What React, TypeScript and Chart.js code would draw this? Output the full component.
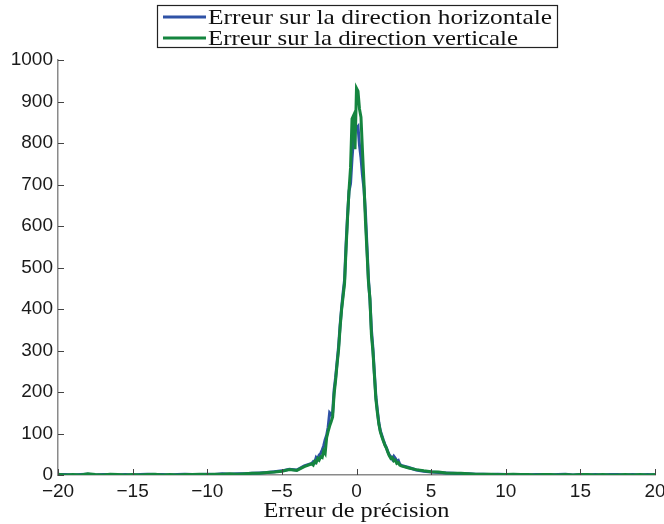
import React, { useEffect, useRef } from "react";
import { Chart, registerables } from "chart.js";

Chart.register(...registerables);

// Histogram bin centres (Erreur de précision)
const bins: number[] = [
  -20, -19.5, -19, -18.5, -18, -17.5, -17, -16.5, -16, -15.5, -15, -14.5, -14, -13.5, -13, -12.5, -12,
  -11.5, -11, -10.5, -10, -9.5, -9, -8.5, -8, -7.5, -7, -6.5, -6, -5.5, -5, -4.5, -4, -3.5,
  -3.0, -2.9, -2.8, -2.7, -2.6, -2.5, -2.4, -2.3, -2.2, -2.1, -2.0, -1.9, -1.8, -1.7, -1.6, -1.5,
  -1.4, -1.3, -1.2, -1.1, -1.0, -0.9, -0.8, -0.7, -0.6, -0.5, -0.4, -0.3, -0.2, -0.1, 0.0,
  0.1, 0.2, 0.3, 0.4, 0.5, 0.6, 0.7, 0.8, 0.9, 1.0, 1.1, 1.2, 1.3, 1.4, 1.5, 1.6, 1.7, 1.8, 1.9, 2.0,
  2.1, 2.2, 2.3, 2.4, 2.5, 2.6, 2.7, 2.8, 2.9, 3.0,
  3.5, 4, 4.5, 5, 5.5, 6, 6.5, 7, 7.5, 8, 8.5, 9, 9.5, 10, 10.5, 11, 11.5, 12, 12.5, 13, 13.5, 14,
  14.5, 15, 15.5, 16, 16.5, 17, 17.5, 18, 18.5, 19, 19.5, 20,
];

const horizontale: number[] = [
  1, 1, 0, 1, 2, 0, 1, 1, 0, 1, 0, 1, 2, 1, 1, 0, 1,
  2, 1, 1, 2, 1, 3, 2, 3, 3, 4, 5, 6, 8, 10, 14, 12, 22,
  28, 32, 30, 42, 38, 48, 52, 60, 70, 85, 96, 115, 150, 146, 150, 205,
  235, 272, 310, 360, 402, 438, 470, 555, 625, 684, 702, 762, 812, 830, 836,
  840, 795, 765, 722, 690, 632, 552, 472, 422, 350, 305, 245, 188, 155, 125, 106, 95, 84, 74, 66,
  56, 48, 44, 38, 45, 40, 33, 35, 26, 23,
  18, 12, 9, 7, 6, 5, 4, 3, 3, 2, 2, 1, 2, 1, 1, 1, 0, 1, 1, 0, 1, 2,
  0, 1, 0, 1, 0, 1, 1, 0, 1, 0, 1, 0,
];

const verticale: number[] = [
  2, 0, 1, 0, 3, 1, 0, 2, 1, 0, 1, 0, 1, 2, 0, 1, 0,
  1, 1, 2, 1, 2, 2, 3, 2, 3, 4, 4, 6, 7, 9, 13, 11, 20,
  27, 24, 33, 30, 40, 36, 44, 42, 58, 52, 90, 105, 118, 128, 140, 195,
  228, 268, 302, 355, 398, 430, 462, 545, 620, 687, 740, 858, 866, 785, 932,
  925, 882, 862, 782, 705, 612, 540, 466, 425, 338, 298, 240, 182, 150, 122, 104, 92, 82, 72, 65,
  55, 46, 40, 42, 34, 36, 28, 30, 24, 22,
  17, 13, 10, 8, 7, 5, 4, 4, 3, 2, 2, 2, 1, 1, 2, 1, 1, 0, 1, 1, 0, 1,
  0, 1, 1, 0, 1, 0, 0, 1, 0, 1, 0, 1,
];

const seriesLabels = ["Erreur sur la direction horizontale", "Erreur sur la direction verticale"];
const xTitle = "Erreur de précision";
const BLUE = "#2f52a6";
const GREEN = "#15853f";

const SERIF = '"Liberation Serif", "DejaVu Serif", serif';

function drawStretched(ctx: CanvasRenderingContext2D, text: string, x: number, y: number, targetW: number, align: "left" | "center") {
  const w = ctx.measureText(text).width;
  const sx = targetW / w;
  ctx.save();
  ctx.translate(x, y);
  ctx.scale(sx, 1);
  ctx.textAlign = "left";
  ctx.fillText(text, align === "center" ? -w / 2 : 0, 0);
  ctx.restore();
}

const decorPlugin = {
  id: "decor",
  afterDraw(chart: any) {
    const ctx: CanvasRenderingContext2D = chart.ctx;
    const xs = chart.scales.x;
    const ys = chart.scales.y;
    const { left, bottom } = chart.chartArea;
    ctx.save();
    // inward tick marks
    ctx.strokeStyle = "#444";
    ctx.lineWidth = 1;
    ctx.beginPath();
    xs.ticks.forEach((t: any) => {
      const px = Math.round(xs.getPixelForValue(t.value)) + 0.5;
      ctx.moveTo(px, bottom);
      ctx.lineTo(px, bottom - 6);
    });
    ys.ticks.forEach((t: any) => {
      const py = Math.round(ys.getPixelForValue(t.value)) + 0.5;
      ctx.moveTo(left, py);
      ctx.lineTo(left + 6, py);
    });
    ctx.stroke();

    // legend box
    ctx.fillStyle = "#fff";
    ctx.fillRect(157, 5, 400, 42);
    ctx.strokeStyle = "#222";
    ctx.lineWidth = 1.2;
    ctx.strokeRect(157.5, 5.5, 400, 42);
    const rows = [
      { y: 17, color: BLUE, text: seriesLabels[0], w: 344 },
      { y: 38, color: GREEN, text: seriesLabels[1], w: 310 },
    ];
    ctx.font = `21px ${SERIF}`;
    ctx.textBaseline = "alphabetic";
    rows.forEach((r) => {
      ctx.strokeStyle = r.color;
      ctx.lineWidth = 3;
      ctx.beginPath();
      ctx.moveTo(163, r.y);
      ctx.lineTo(206, r.y);
      ctx.stroke();
      ctx.fillStyle = "#111";
      drawStretched(ctx, r.text, 208, r.y + 7, r.w, "left");
    });

    // x axis title
    ctx.fillStyle = "#111";
    drawStretched(ctx, xTitle, (chart.chartArea.left + chart.chartArea.right) / 2, 517, 186, "center");
    ctx.restore();
  },
};

export default function App() {
  const ref = useRef<HTMLCanvasElement | null>(null);
  useEffect(() => {
    if (!ref.current) return;
    const mk = (vals: number[]) => bins.map((x, i) => ({ x, y: vals[i] }));
    const tickFont = { family: '"Liberation Sans", Arial, sans-serif', size: 19 };
    const chart = new Chart(ref.current, {
      type: "line",
      data: {
        datasets: [
          { label: seriesLabels[0], data: mk(horizontale), borderColor: BLUE, borderWidth: 3, pointRadius: 0, tension: 0, order: 2 },
          { label: seriesLabels[1], data: mk(verticale), borderColor: GREEN, borderWidth: 3, pointRadius: 0, tension: 0, order: 1 },
        ],
      },
      options: {
        animation: false,
        responsive: false,
        events: [],
        layout: { padding: { top: 60, right: 9, left: 0, bottom: 0 } },
        plugins: { legend: { display: false }, tooltip: { enabled: false } },
        scales: {
          x: {
            type: "linear",
            min: -20,
            max: 20,
            grid: { display: true, drawOnChartArea: false, drawTicks: false },
            border: { display: true, color: "#8a8a8a", width: 1.5 },
            ticks: {
              stepSize: 5,
              padding: 5,
              color: "#1a1a1a",
              font: tickFont,
              maxRotation: 0,
              callback: (v: any) => (v < 0 ? "\u2212" + Math.abs(v) : String(v)),
            },
            afterFit: (s: any) => {
              s.height = 49;
              s.paddingLeft = 0;
              s.paddingRight = 0;
            },
          },
          y: {
            min: 0,
            max: 1000,
            grid: { display: true, drawOnChartArea: false, drawTicks: false },
            border: { display: true, color: "#8a8a8a", width: 1.5 },
            ticks: { stepSize: 100, padding: 5, color: "#1a1a1a", font: tickFont, callback: (v: any) => String(v) },
            afterFit: (s: any) => {
              s.width = 58;
              s.paddingTop = 0;
              s.paddingBottom = 0;
            },
          },
        },
      },
      plugins: [decorPlugin],
    });
    return () => chart.destroy();
  }, []);
  return (
    <div style={{ position: "fixed", left: 0, top: 0, width: 664, height: 524, background: "#fff" }}>
      <canvas ref={ref} width={664} height={524} />
    </div>
  );
}
